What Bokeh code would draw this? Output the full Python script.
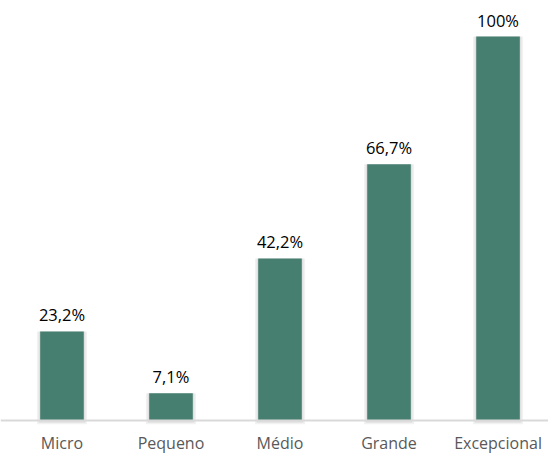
from bokeh.plotting import figure
from bokeh.models import ColumnDataSource, Range1d, Span
from bokeh.core.properties import value
from bokeh.embed import file_html
from bokeh.resources import INLINE

categories = ["Micro", "Pequeno", "Médio", "Grande", "Excepcional"]
values = [23.2, 7.1, 42.2, 66.7, 100.0]
labels = ["23,2%", "7,1%", "42,2%", "66,7%", "100%"]

xs = list(range(len(categories)))
src = ColumnDataSource(dict(x=xs, top=values, lab=labels, cat=categories, zero=[0] * len(xs)))

p = figure(width=548, height=454, output_backend="svg", toolbar_location=None,
           x_range=Range1d(-0.564, 4.463), y_range=Range1d(-8.854, 109.375),
           min_border=0)
p.outline_line_color = None
p.grid.grid_line_color = None
p.xaxis.visible = False
p.yaxis.visible = False

# soft shadow
p.vbar(x="x", top="top", bottom=-1.0, width=0.46, source=src, fill_color="#000000",
       fill_alpha=0.05, line_color=None)
p.vbar(x="x", top="top", bottom=-0.6, width=0.43, source=src, fill_color="#000000",
       fill_alpha=0.07, line_color=None)
p.vbar(x="x", top="top", width=0.40, source=src, fill_color="#467F70", line_color=None)

# baseline
p.add_layout(Span(location=0, dimension="width", line_color="#D9D9D9", line_width=2))

p.text(x="x", y="top", text="lab", source=src, text_align="center", text_baseline="bottom",
       y_offset=-5, text_font=value("Open Sans"), text_font_size="16.5px", text_color="#000000")

p.text(x="x", y="zero", text="cat", source=src, text_align="center", text_baseline="top",
       y_offset=11, text_font=value("Open Sans"), text_font_size="16px", text_color="#595959")

open("out.html", "w").write(file_html(p, INLINE))
